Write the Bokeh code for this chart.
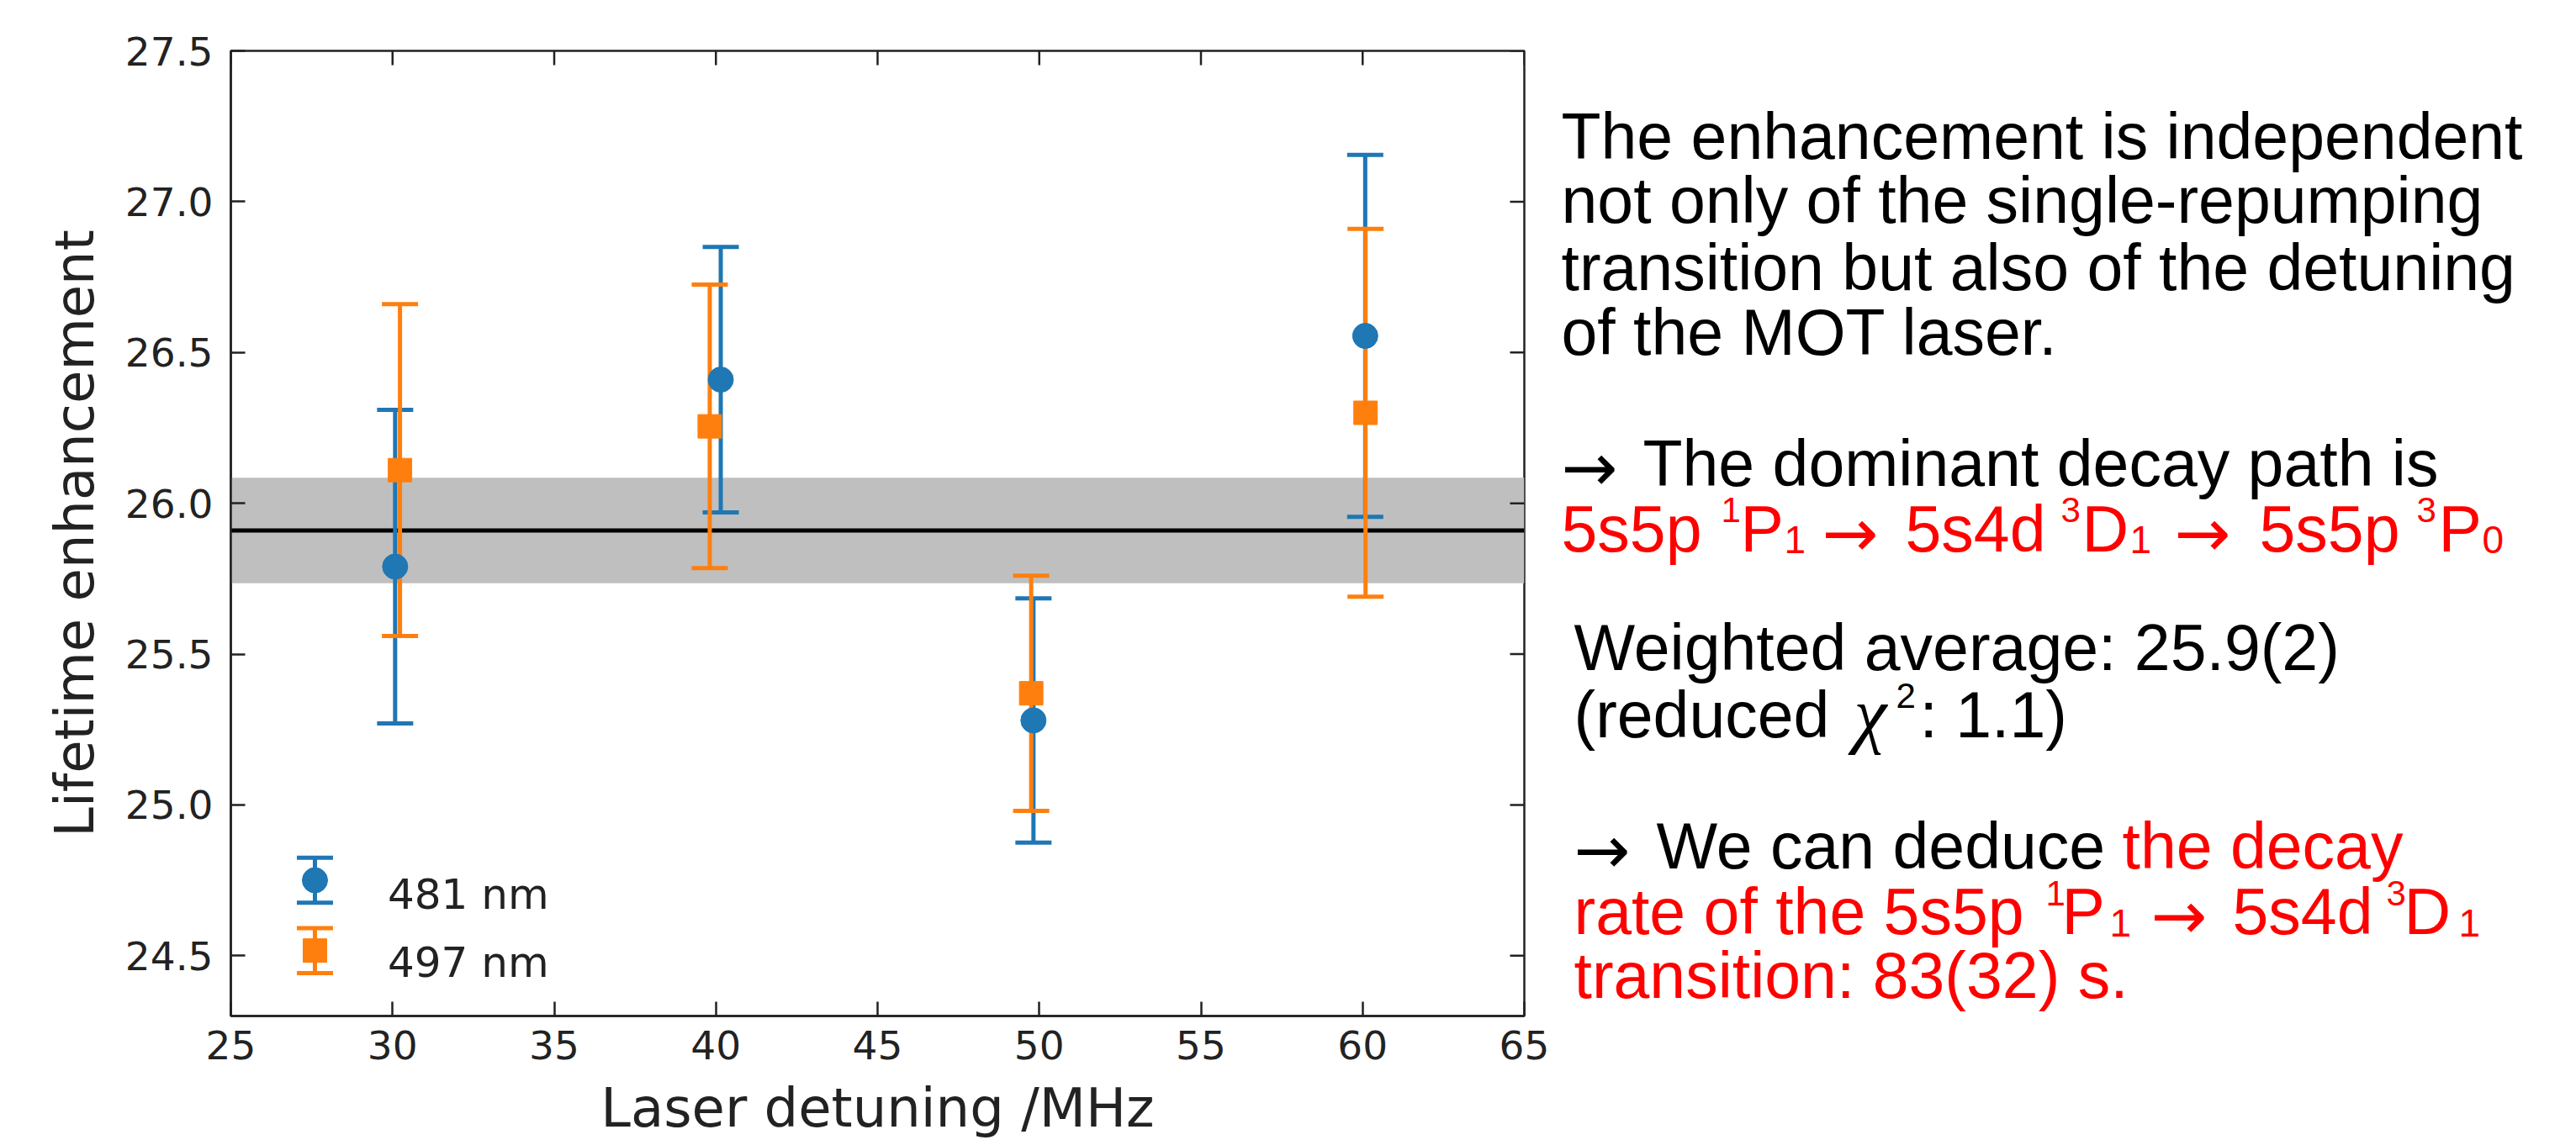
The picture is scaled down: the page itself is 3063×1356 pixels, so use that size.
import math
from bokeh.plotting import figure
from bokeh.layouts import row
from bokeh.models import (Range1d, FixedTicker, PrintfTickFormatter,
                          Whisker, ColumnDataSource, BoxAnnotation, Span, TeeHead)
from bokeh.core.properties import value
from bokeh.embed import file_html
from bokeh.resources import INLINE

# ---------------- data ----------------
series_labels = ["481 nm", "497 nm"]
detuning_481 = [30.08, 40.15, 49.82, 60.08]
enh_481 = [25.79, 26.41, 25.28, 26.555]
err_481 = [0.52, 0.44, 0.405, 0.60]

detuning_497 = [30.23, 39.81, 49.75, 60.09]
enh_497 = [26.11, 26.255, 25.37, 26.30]
err_497 = [0.55, 0.47, 0.39, 0.61]

weighted_mean = 25.91
weighted_err = 0.175

x_ticks = [25, 30, 35, 40, 45, 50, 55, 60, 65]
y_ticks = [24.5, 25.0, 25.5, 26.0, 26.5, 27.0, 27.5]
X_MIN, X_MAX = 25, 65
Y_MIN, Y_MAX = 24.3, 27.5

# ---------------- styles ----------------
BLUE = "#1f77b4"
ORANGE = "#ff7f0e"
AX = "#222222"
TICK_FONT = "47px"
LABEL_FONT = "64px"
TICK_LEN = 17

p = figure(frame_width=1538, frame_height=1148,
           x_range=Range1d(X_MIN, X_MAX), y_range=Range1d(Y_MIN, Y_MAX),
           output_backend="svg", toolbar_location=None,
           min_border_left=274, min_border_right=30,
           min_border_top=60, min_border_bottom=148)
p.grid.visible = False
p.outline_line_color = AX
p.outline_line_width = 2.5
p.background_fill_color = "white"
p.border_fill_color = "white"


def style_axis(ax, ticks):
    ax.ticker = FixedTicker(ticks=ticks)
    ax.major_tick_in = TICK_LEN
    ax.major_tick_out = 0
    ax.minor_tick_line_color = None
    ax.major_tick_line_color = AX
    ax.major_tick_line_width = 2.5
    ax.axis_line_color = AX
    ax.axis_line_width = 2.5
    ax.major_label_text_font = "DejaVu Sans"
    ax.major_label_text_font_size = TICK_FONT
    ax.major_label_text_color = AX
    ax.axis_label_text_font = "DejaVu Sans"
    ax.axis_label_text_font_size = LABEL_FONT
    ax.axis_label_text_font_style = "normal"
    ax.axis_label_text_color = AX


xa = p.xaxis[0]
style_axis(xa, x_ticks)
xa.axis_label = "Laser detuning /MHz"
xa.major_label_standoff = 17
xa.axis_label_standoff = 18

ya = p.yaxis[0]
style_axis(ya, y_ticks)
ya.formatter = PrintfTickFormatter(format="%.1f")
ya.axis_label = "Lifetime enhancement"
ya.major_label_standoff = 21
ya.axis_label_standoff = 20

# inward ticks on the top and right frame edges
p.ray(x=x_ticks, y=[Y_MAX] * len(x_ticks), length=TICK_LEN, length_units="screen",
      angle=-math.pi / 2, line_color=AX, line_width=2.5)
p.ray(x=[X_MAX] * len(y_ticks), y=y_ticks, length=TICK_LEN, length_units="screen",
      angle=math.pi, line_color=AX, line_width=2.5)

# weighted average band and line
band = BoxAnnotation(bottom=weighted_mean - weighted_err, top=weighted_mean + weighted_err,
                     fill_color="#bfbfbf", fill_alpha=1.0, line_color=None, level="underlay")
p.add_layout(band)
p.add_layout(Span(location=weighted_mean, dimension="width", line_color="black",
                  line_width=5, level="underlay"))


def add_errorbars(xs, ys, es, color):
    src = ColumnDataSource(dict(x=xs, lo=[y - e for y, e in zip(ys, es)],
                                hi=[y + e for y, e in zip(ys, es)]))
    w = Whisker(base="x", upper="hi", lower="lo", source=src,
                line_color=color, line_width=5, level="underlay",
                upper_head=TeeHead(size=43, line_color=color, line_width=5),
                lower_head=TeeHead(size=43, line_color=color, line_width=5))
    p.add_layout(w)


add_errorbars(detuning_481, enh_481, err_481, BLUE)
add_errorbars(detuning_497, enh_497, err_497, ORANGE)
p.scatter(detuning_481, enh_481, marker="circle", size=30, color=BLUE)
p.scatter(detuning_497, enh_497, marker="square", size=28, color=ORANGE)

# manual legend (errorbar-style glyphs)
legend_x = [27.6, 27.6]
legend_y = [24.75, 24.517]
legend_cap = 0.0745
legend_text_x = [29.85, 29.85]
legend_text_y = [24.703, 24.476]
legend_colors = [BLUE, ORANGE]
legend_markers = ["circle", "square"]
legend_sizes = [30, 28]
for i in range(2):
    add_errorbars([legend_x[i]], [legend_y[i]], [legend_cap], legend_colors[i])
    p.scatter([legend_x[i]], [legend_y[i]], marker=legend_markers[i],
              size=legend_sizes[i], color=legend_colors[i])
p.text(x=legend_text_x, y=legend_text_y, text=series_labels,
       text_font=value("DejaVu Sans"), text_font_size="50px", text_color=AX,
       text_baseline="alphabetic", text_align="left")

# ---------------- right-hand text panel ----------------
PANEL_X0, PANEL_X1 = 1842, 3063
PANEL_H = 1356
p2 = figure(width=PANEL_X1 - PANEL_X0, height=PANEL_H,
            x_range=Range1d(PANEL_X0, PANEL_X1), y_range=Range1d(PANEL_H, 0),
            output_backend="svg", toolbar_location=None, min_border=0,
            x_axis_location=None, y_axis_location=None)
p2.grid.visible = False
p2.outline_line_color = None
p2.background_fill_color = "white"
p2.border_fill_color = "white"

RED = "#ff0000"
BLK = "black"
# run styles: font, size, style, baseline shift
STYLES = {
    "n": ("Liberation Sans", "77px", "normal", 0),
    "sup": ("Liberation Sans", "42px", "normal", -26),
    "sub": ("Liberation Sans", "46px", "normal", 16),
    "arrow": ("DejaVu Sans", "80px", "normal", 6),
    "it": ("Liberation Serif", "88px", "italic", 0),
}

# (x, baseline, text, style, colour)
runs = [
    (1856, 120, "The enhancement is independent", "n", BLK),
    (1856, 210, "not only of the single-repumping", "n", BLK),
    (1856, 305, "transition but also of the detuning", "n", BLK),
    (1856, 396, "of the MOT laser.", "n", BLK),
    (1856, 580, "\u2192", "arrow", BLK),
    (1953, 580, "The dominant decay path is", "n", BLK),
    (1856, 672, "5s5p", "n", RED),
    (2046, 672, "1", "sup", RED),
    (2069, 672, "P", "n", RED),
    (2121, 672, "1", "sub", RED),
    (2166, 672, "\u2192", "arrow", RED),
    (2265, 672, "5s4d", "n", RED),
    (2450, 672, "3", "sup", RED),
    (2475, 672, "D", "n", RED),
    (2532, 672, "1", "sub", RED),
    (2585, 672, "\u2192", "arrow", RED),
    (2686, 672, "5s5p", "n", RED),
    (2873, 672, "3", "sup", RED),
    (2899, 672, "P", "n", RED),
    (2951, 672, "0", "sub", RED),
    (1871, 839, "Weighted average: 25.9(2)", "n", BLK),
    (1871, 933, "(reduced", "n", BLK),
    (2204, 933, "\u03c7", "it", BLK),
    (2254, 933, "2", "sup", BLK),
    (2282, 933, ": 1.1)", "n", BLK),
    (1871, 1118, "\u2192", "arrow", BLK),
    (1969, 1118, "We can deduce", "n", BLK),
    (2523, 1118, "the decay", "n", RED),
    (1871, 1210, "rate of the 5s5p", "n", RED),
    (2432, 1210, "1", "sup", RED),
    (2451, 1210, "P", "n", RED),
    (2508, 1210, "1", "sub", RED),
    (2557, 1210, "\u2192", "arrow", RED),
    (2654, 1210, "5s4d", "n", RED),
    (2837, 1210, "3", "sup", RED),
    (2858, 1210, "D", "n", RED),
    (2923, 1210, "1", "sub", RED),
    (1871, 1300, "transition: 83(32) s.", "n", RED),
]

groups = {}
for x, y, t, st, col in runs:
    key = (st, col)
    g = groups.setdefault(key, {"x": [], "y": [], "text": []})
    g["x"].append(x)
    g["y"].append(y + STYLES[st][3])
    g["text"].append(t)

for (st, col), g in groups.items():
    font, size, fstyle, _ = STYLES[st]
    p2.text(x=g["x"], y=g["y"], text=g["text"], text_font=value(font),
            text_font_size=size, text_font_style=fstyle, text_color=col,
            text_baseline="alphabetic", text_align="left")

layout = row(p, p2)
open("out.html", "w").write(file_html(layout, INLINE))
